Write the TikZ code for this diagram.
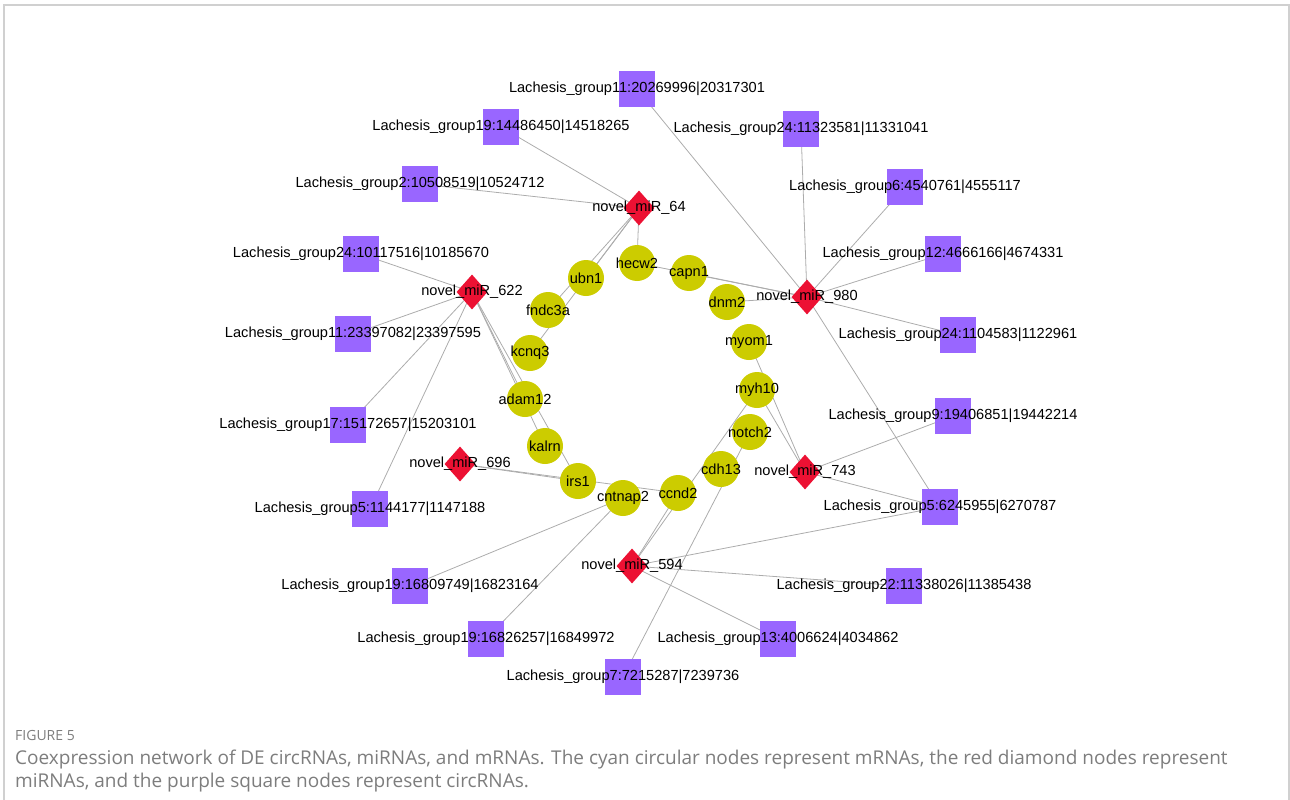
\documentclass[tikz,border=0pt]{standalone}
\usepackage{fontspec}
\setmainfont{Liberation Sans}
\newfontfamily\capfont{Open Sans}
\usetikzlibrary{shapes.geometric,backgrounds}

\definecolor{mrnacol}{RGB}{204,204,0}
\definecolor{mirnacol}{RGB}{236,17,51}
\definecolor{circcol}{RGB}{153,102,255}
\definecolor{edgecol}{RGB}{172,172,172}
\definecolor{capcol}{RGB}{125,125,125}
\definecolor{framecol}{RGB}{208,208,208}

\begin{document}
\begin{tikzpicture}[x=1pt,y=-1pt,
  lbl/.style={font=\fontsize{14.6}{16}\selectfont,inner sep=0},
  mrna/.style={circle,fill=mrnacol,minimum size=36,inner sep=0,label={[lbl]center:#1}},
  mirna/.style={diamond,fill=mirnacol,minimum width=31,minimum height=35,inner sep=0,label={[lbl]center:#1}},
  circ/.style={rectangle,fill=circcol,minimum size=36,inner sep=0,label={[lbl]center:#1}},
  link/.style={edgecol,line width=0.8}]
  \useasboundingbox (0,0) rectangle (1290,800);
  \draw[framecol,line width=1.5] (4,800) -- (4,5) -- (1289,5) -- (1289,800);

  % circRNAs
  \node[circ=Lachesis\_group11:20269996|20317301] (c1) at (637,89) {};
  \node[circ=Lachesis\_group19:14486450|14518265] (c2) at (501,127) {};
  \node[circ=Lachesis\_group24:11323581|11331041] (c3) at (801,129) {};
  \node[circ=Lachesis\_group2:10508519|10524712] (c4) at (420,184) {};
  \node[circ=Lachesis\_group6:4540761|4555117] (c5) at (905,187) {};
  \node[circ=Lachesis\_group24:10117516|10185670] (c6) at (361,254) {};
  \node[circ=Lachesis\_group12:4666166|4674331] (c7) at (943,254) {};
  \node[circ=Lachesis\_group11:23397082|23397595] (c8) at (353,334) {};
  \node[circ=Lachesis\_group24:1104583|1122961] (c9) at (958,335) {};
  \node[circ=Lachesis\_group17:15172657|15203101] (c10) at (348,425) {};
  \node[circ=Lachesis\_group9:19406851|19442214] (c11) at (953,416) {};
  \node[circ=Lachesis\_group5:1144177|1147188] (c12) at (370,509) {};
  \node[circ=Lachesis\_group5:6245955|6270787] (c13) at (940,507) {};
  \node[circ=Lachesis\_group19:16809749|16823164] (c14) at (410,586) {};
  \node[circ=Lachesis\_group22:11338026|11385438] (c15) at (904,586) {};
  \node[circ=Lachesis\_group19:16826257|16849972] (c16) at (486,639) {};
  \node[circ=Lachesis\_group13:4006624|4034862] (c17) at (778,639) {};
  \node[circ=Lachesis\_group7:7215287|7239736] (c18) at (623,677) {};

  % miRNAs
  \node[mirna=novel\_miR\_64] (m64) at (639,208) {};
  \node[mirna=novel\_miR\_980] (m980) at (807,297) {};
  \node[mirna=novel\_miR\_622] (m622) at (472,292) {};
  \node[mirna=novel\_miR\_696] (m696) at (460,464) {};
  \node[mirna=novel\_miR\_743] (m743) at (805,472) {};
  \node[mirna=novel\_miR\_594] (m594) at (632,566) {};

  % mRNAs
  \node[mrna=hecw2] (hecw2) at (637,263) {};
  \node[mrna=capn1] (capn1) at (689,273) {};
  \node[mrna=dnm2] (dnm2) at (727,302) {};
  \node[mrna=ubn1] (ubn1) at (586,278) {};
  \node[mrna=fndc3a] (fndc3a) at (548,310) {};
  \node[mrna=kcnq3] (kcnq3) at (530,353) {};
  \node[mrna=adam12] (adam12) at (525,399) {};
  \node[mrna=kalrn] (kalrn) at (545,446) {};
  \node[mrna=irs1] (irs1) at (578,481) {};
  \node[mrna=cntnap2] (cntnap2) at (623,498) {};
  \node[mrna=ccnd2] (ccnd2) at (678,493) {};
  \node[mrna=cdh13] (cdh13) at (721,469) {};
  \node[mrna=notch2] (notch2) at (750,432) {};
  \node[mrna=myh10] (myh10) at (757,390) {};
  \node[mrna=myom1] (myom1) at (749,342) {};

  % edges
  \begin{scope}[on background layer]
    \foreach \t in {c2,c4,hecw2,ubn1,fndc3a,kcnq3}
      \draw[link] (m64.center) -- (\t.center);
    \foreach \t in {c6,c8,c10,c12,adam12,kalrn,irs1}
      \draw[link] (m622.center) -- (\t.center);
    \foreach \t in {c1,c3,c5,c7,c9,c13,hecw2,capn1,dnm2}
      \draw[link] (m980.center) -- (\t.center);
    \foreach \t in {myom1,myh10,c11,c13}
      \draw[link] (m743.center) -- (\t.center);
    \foreach \t in {irs1,ccnd2}
      \draw[link] (m696.center) -- (\t.center);
    \foreach \t in {ccnd2,myh10,c13,c15,c17}
      \draw[link] (m594.center) -- (\t.center);
    \draw[link] (cntnap2.center) -- (c14.center);
    \draw[link] (cntnap2.center) -- (c16.center);
    \draw[link] (notch2.center) -- (c18.center);
  \end{scope}

  % caption
  \node[anchor=west,inner sep=0,text=capcol,font=\capfont\fontsize{14}{16}\selectfont] (fig) at (15,735) {FIGURE 5};
  \node[anchor=north west,inner sep=0,align=left,text=capcol,font=\capfont\fontsize{19}{23}\selectfont] (cap) at (15,750)
    {Coexpression network of DE circRNAs, miRNAs, and mRNAs. The cyan circular nodes represent mRNAs, the red diamond nodes represent\\
     miRNAs, and the purple square nodes represent circRNAs.};
\end{tikzpicture}
\end{document}
